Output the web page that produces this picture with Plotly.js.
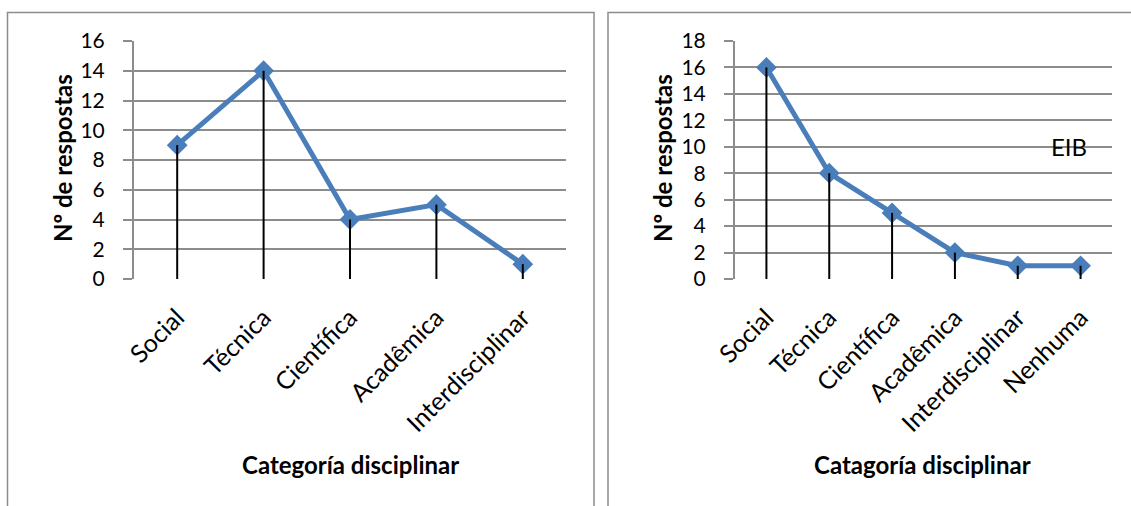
<!DOCTYPE html>
<html>
<head>
<meta charset="utf-8">
<script src="https://cdn.plot.ly/plotly-3.0.1.min.js"></script>
<style>
  html, body { margin: 0; padding: 0; background: #ffffff; }
  #chart { width: 1131px; height: 506px; }
</style>
</head>
<body>
<div id="chart"></div>
<script>
// Respostas por categoria disciplinar (dois grupos)
const categoriasA = ['Social', 'Técnica', 'Científica', 'Acadêmica', 'Interdisciplinar'];
const respostasA = [9, 14, 4, 5, 1];

const categoriasB = ['Social', 'Técnica', 'Científica', 'Acadêmica', 'Interdisciplinar', 'Nenhuma'];
const respostasB = [16, 8, 5, 2, 1, 1];

const yTicksA = [0, 2, 4, 6, 8, 10, 12, 14, 16];
const yTicksB = [0, 2, 4, 6, 8, 10, 12, 14, 16, 18];

const FONT = 'Lato, sans-serif';
const BLUE = '#4a7ebb';
const GRID = '#8c8c8c';

// vertical drop lines from zero to each value
function dropLines(cats, vals, xa, ya) {
  const xs = [], ys = [];
  cats.forEach((c, i) => { xs.push(c, c, null); ys.push(0, vals[i], null); });
  return {
    x: xs, y: ys, xaxis: xa, yaxis: ya, type: 'scatter', mode: 'lines',
    line: { color: '#000000', width: 2 }, hoverinfo: 'skip', showlegend: false
  };
}

function series(cats, vals, xa, ya) {
  return {
    x: cats, y: vals, xaxis: xa, yaxis: ya, type: 'scatter', mode: 'lines+markers',
    line: { color: BLUE, width: 5 },
    marker: { symbol: 'diamond', size: 16, color: BLUE },
    showlegend: false
  };
}

const data = [
  series(categoriasA, respostasA, 'x', 'y'),
  dropLines(categoriasA, respostasA, 'x', 'y'),
  series(categoriasB, respostasB, 'x2', 'y2'),
  dropLines(categoriasB, respostasB, 'x2', 'y2')
];

function xAxis(domain, anchor, n) {
  return {
    domain: domain, anchor: anchor, type: 'category', range: [-0.5, n - 0.5],
    showgrid: false, zeroline: false, showline: false, ticks: '',
    tickangle: -45, ticklabelstandoff: 18,
    tickfont: { family: FONT, size: 25, color: '#000' },
    fixedrange: true
  };
}

function yAxis(domain, anchor, ticks) {
  return {
    domain: domain, anchor: anchor, range: [0, ticks[ticks.length - 1]],
    tickvals: ticks, ticktext: ticks.map(String),
    showgrid: true, gridcolor: GRID, gridwidth: 2,
    zeroline: false, showline: true, linecolor: GRID, linewidth: 2,
    ticks: 'outside', ticklen: 9, tickcolor: GRID, tickwidth: 2,
    ticklabelstandoff: 14,
    tickfont: { family: FONT, size: 21, color: '#000' },
    fixedrange: true
  };
}

const yDom = [1 - 279 / 506, 1 - 41 / 506];

const titleFont = { family: FONT, size: 24, color: '#000' };

const layout = {
  width: 1131, height: 506,
  margin: { l: 0, r: 0, t: 0, b: 0 },
  paper_bgcolor: '#ffffff', plot_bgcolor: 'rgba(0,0,0,0)',
  showlegend: false,
  xaxis: xAxis([134 / 1131, 566 / 1131], 'y', categoriasA.length),
  yaxis: yAxis(yDom, 'x', yTicksA),
  xaxis2: xAxis([735 / 1131, 1112 / 1131], 'y2', categoriasB.length),
  yaxis2: yAxis(yDom, 'x2', yTicksB),
  shapes: [
    { type: 'rect', xref: 'paper', yref: 'paper', x0: 7.5 / 1131, x1: 594 / 1131, y0: -0.05, y1: 1 - 12.5 / 506,
      line: { color: '#8c8c8c', width: 1.5 } },
    { type: 'rect', xref: 'paper', yref: 'paper', x0: 608 / 1131, x1: 1.05, y0: -0.05, y1: 1 - 12.5 / 506,
      line: { color: '#8c8c8c', width: 1.5 } }
  ],
  annotations: [
    { text: '<b>Nº de respostas</b>', xref: 'paper', yref: 'paper', x: 62 / 1131, y: 1 - 158 / 506,
      xanchor: 'center', yanchor: 'middle',
      textangle: -90, showarrow: false, font: titleFont },
    { text: '<b>Nº de respostas</b>', xref: 'paper', yref: 'paper', x: 662 / 1131, y: 1 - 158 / 506,
      xanchor: 'center', yanchor: 'middle',
      textangle: -90, showarrow: false, font: titleFont },
    { text: '<b>Categoría disciplinar</b>', xref: 'paper', yref: 'paper', x: 350 / 1131, y: 1 - 464 / 506,
      xanchor: 'center', yanchor: 'middle', showarrow: false, font: titleFont },
    { text: '<b>Catagoría disciplinar</b>', xref: 'paper', yref: 'paper', x: 922 / 1131, y: 1 - 464 / 506,
      xanchor: 'center', yanchor: 'middle', showarrow: false, font: titleFont },
    { text: 'EIB', xref: 'paper', yref: 'y2', x: 1069 / 1131, y: 10,
      xanchor: 'center', yanchor: 'middle',
      showarrow: false, font: { family: FONT, size: 24, color: '#000' } }
  ]
};

Plotly.newPlot('chart', data, layout, { displayModeBar: false, staticPlot: true });
</script>
</body>
</html>
